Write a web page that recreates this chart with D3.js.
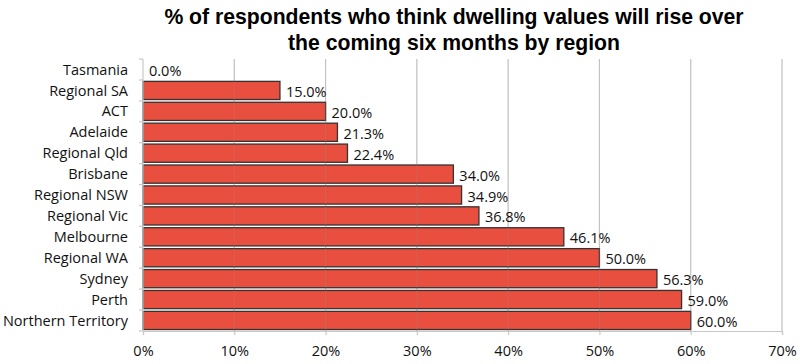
<!DOCTYPE html>
<html>
<head>
<meta charset="utf-8">
<script src="https://cdn.jsdelivr.net/npm/d3@7/dist/d3.min.js"></script>
<style>
  body { margin: 0; background: #fff; }
  svg { display: block; }
</style>
</head>
<body>
<svg></svg>
<script>
var screen = {width: 800, height: 364};
var margins = {top: 59, right: 18, bottom: 33, left: 143};

var regions = ["Tasmania", "Regional SA", "ACT", "Adelaide", "Regional Qld", "Brisbane",
               "Regional NSW", "Regional Vic", "Melbourne", "Regional WA", "Sydney", "Perth",
               "Northern Territory"];
var values = [0.0, 15.0, 20.0, 21.3, 22.4, 34.0, 34.9, 36.8, 46.1, 50.0, 56.3, 59.0, 60.0];
var xTicks = [0, 10, 20, 30, 40, 50, 60, 70];
var titleLines = ["% of respondents who think dwelling values will rise over",
                  "the coming six months by region"];

var svg = d3.select("svg")
    .attr("width", screen.width)
    .attr("height", screen.height);

var width = screen.width - margins.left - margins.right;
var height = screen.height - margins.top - margins.bottom;

var xScale = d3.scaleLinear()
                .domain([0, 70])
                .range([0, width]);

var yScale = d3.scaleBand()
                .domain(regions)
                .range([0, height])
                .paddingInner(0.13)
                .paddingOuter(0.07);

// title
svg.append("g")
    .selectAll("text")
    .data(titleLines)
    .enter()
    .append("text")
    .attr("x", 454)
    .attr("y", function(d, i){return 24 + i * 26;})
    .attr("text-anchor", "middle")
    .style("font-family", "'Liberation Sans', Arial, sans-serif")
    .style("font-weight", "bold")
    .style("font-size", "21.2px")
    .style("fill", "#000")
    .text(function(d){return d;});

var graph = svg.append("g")
    .attr("id", "graph")
    .attr("transform", "translate(" + margins.left + "," + margins.top + ")");

// gridlines
graph.append("g")
    .selectAll("line")
    .data(xTicks.slice(1))
    .enter()
    .append("line")
    .attr("x1", function(d){return xScale(d);})
    .attr("x2", function(d){return xScale(d);})
    .attr("y1", 0)
    .attr("y2", height)
    .attr("stroke", "#d0d0d0")
    .attr("stroke-width", 1.2);

// bars
graph.append("g")
    .selectAll("rect")
    .data(values)
    .enter()
    .append("rect")
    .attr("x", xScale(0))
    .attr("y", function(d, i){return yScale(regions[i]);})
    .attr("width", function(d){return xScale(d) - xScale(0);})
    .attr("height", yScale.bandwidth())
    .attr("fill", "#e84f3f")
    .attr("stroke", "#333")
    .attr("stroke-width", 1.3);

// faint gridlines showing through the bars
graph.append("g")
    .selectAll("line")
    .data(xTicks.slice(1))
    .enter()
    .append("line")
    .attr("x1", function(d){return xScale(d);})
    .attr("x2", function(d){return xScale(d);})
    .attr("y1", 0)
    .attr("y2", height)
    .attr("stroke", "#999")
    .attr("stroke-opacity", 0.25)
    .attr("stroke-width", 1);

// value labels
graph.append("g")
    .selectAll("text")
    .data(values)
    .enter()
    .append("text")
    .attr("x", function(d){return xScale(d) + 6;})
    .attr("y", function(d, i){return yScale(regions[i]) + yScale.bandwidth() / 2 + 1.5;})
    .attr("dy", "0.35em")
    .style("font-family", "'Open Sans', sans-serif")
    .style("font-size", "14.5px")
    .style("fill", "#111")
    .text(function(d){return d.toFixed(1) + "%";});

// left axis: line with ticks at category boundaries
var yAxis = graph.append("g").attr("id", "yAxis");
yAxis.append("line")
    .attr("x1", 0).attr("x2", 0)
    .attr("y1", 0).attr("y2", height)
    .attr("stroke", "#c8c8c8")
    .attr("stroke-width", 1.2);
var boundaries = regions.map(function(r){return yScale(r) - yScale.step() * yScale.paddingInner() / 2;});
boundaries.push(height);
yAxis.selectAll("line.tick")
    .data(boundaries)
    .enter()
    .append("line")
    .attr("class", "tick")
    .attr("x1", -4).attr("x2", 0)
    .attr("y1", function(d){return d;})
    .attr("y2", function(d){return d;})
    .attr("stroke", "#c8c8c8")
    .attr("stroke-width", 1.2);
yAxis.selectAll("text")
    .data(regions)
    .enter()
    .append("text")
    .attr("x", -15)
    .attr("y", function(d){return yScale(d) + yScale.bandwidth() / 2;})
    .attr("dy", "0.35em")
    .attr("text-anchor", "end")
    .style("font-family", "'Open Sans', sans-serif")
    .style("font-size", "14.5px")
    .style("fill", "#111")
    .text(function(d){return d;});

// bottom axis
var xAxis = d3.axisBottom(xScale)
    .tickValues(xTicks)
    .tickSize(4)
    .tickPadding(11)
    .tickFormat(function(d){return d + "%";});

var xg = graph.append("g")
    .attr("id", "xAxis")
    .attr("transform", "translate(0," + height + ")")
    .call(xAxis);
xg.select(".domain").attr("stroke", "#c8c8c8").attr("stroke-width", 1.2);
xg.selectAll(".tick line").attr("stroke", "#c8c8c8").attr("stroke-width", 1.2);
xg.selectAll(".tick text")
    .style("font-family", "'Open Sans', sans-serif")
    .style("font-size", "14.5px")
    .style("fill", "#111");
</script>
</body>
</html>
